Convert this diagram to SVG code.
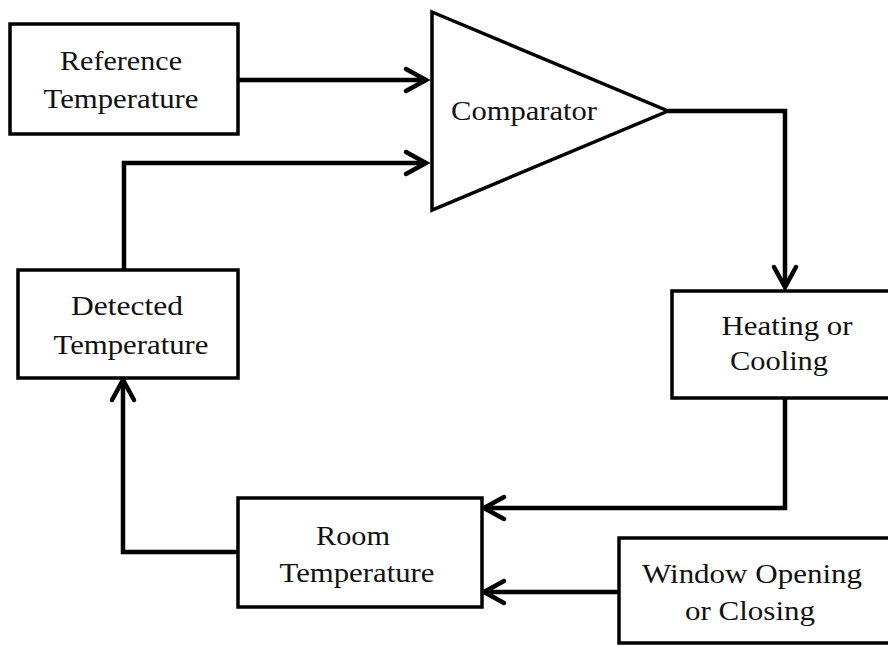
<svg xmlns="http://www.w3.org/2000/svg" width="888" height="646" viewBox="0 0 888 646">
<style>
.box{fill:#fff;stroke:#000;stroke-width:3.5}
.lbl{font-size:28px;fill:#111;text-anchor:middle}
.wire{fill:none;stroke:#000;stroke-width:4.5;stroke-linejoin:miter}
.head{fill:none;stroke:#000;stroke-width:4.5;stroke-linecap:round;stroke-linejoin:miter}
</style>
<rect width="888" height="646" fill="#fff"/>
<g id="connectors">
<path class="wire" d="M238,80 H426"/>
<path class="head" d="M406,69 L426,80 L406,91"/>
<path class="wire" d="M124,270 V163 H426"/>
<path class="head" d="M406,152 L426,163 L406,174"/>
<path class="wire" d="M668,111 H785 V287"/>
<path class="head" d="M774,267 L785,287 L796,267"/>
<path class="wire" d="M785,397 V508 H484"/>
<path class="head" d="M504,497 L484,508 L504,519"/>
<path class="wire" d="M238,552 H123 V380"/>
<path class="head" d="M112,400 L123,380 L134,400"/>
<path class="wire" d="M619,592 H484"/>
<path class="head" d="M504,581 L484,592 L504,603"/>
</g>
<g font-family="Liberation Serif, Tinos, Times New Roman, serif">
<g id="reference">
<rect class="box" x="10" y="24" width="228" height="110"/>
<text class="lbl" x="121" y="70" textLength="122" lengthAdjust="spacingAndGlyphs">Reference</text>
<text class="lbl" x="121" y="108" textLength="155" lengthAdjust="spacingAndGlyphs">Temperature</text>
</g>
<g id="comparator">
<polygon class="box" points="432,12 668,111 432,210"/>
<text class="lbl" x="524" y="120" textLength="146" lengthAdjust="spacingAndGlyphs">Comparator</text>
</g>
<g id="heating">
<rect class="box" x="672" y="291" width="230" height="107"/>
<text class="lbl" x="787" y="335" textLength="131" lengthAdjust="spacingAndGlyphs">Heating or</text>
<text class="lbl" x="779" y="370" textLength="98" lengthAdjust="spacingAndGlyphs">Cooling</text>
</g>
<g id="detected">
<rect class="box" x="18" y="270" width="220" height="108"/>
<text class="lbl" x="127" y="315" textLength="112" lengthAdjust="spacingAndGlyphs">Detected</text>
<text class="lbl" x="131" y="354" textLength="155" lengthAdjust="spacingAndGlyphs">Temperature</text>
</g>
<g id="room">
<rect class="box" x="238" y="498" width="244" height="109"/>
<text class="lbl" x="353" y="545" textLength="74" lengthAdjust="spacingAndGlyphs">Room</text>
<text class="lbl" x="357" y="582" textLength="155" lengthAdjust="spacingAndGlyphs">Temperature</text>
</g>
<g id="window">
<rect class="box" x="619" y="538" width="290" height="105"/>
<text class="lbl" x="752" y="583" textLength="220" lengthAdjust="spacingAndGlyphs">Window Opening</text>
<text class="lbl" x="750" y="620" textLength="130" lengthAdjust="spacingAndGlyphs">or Closing</text>
</g>
</g>
</svg>
